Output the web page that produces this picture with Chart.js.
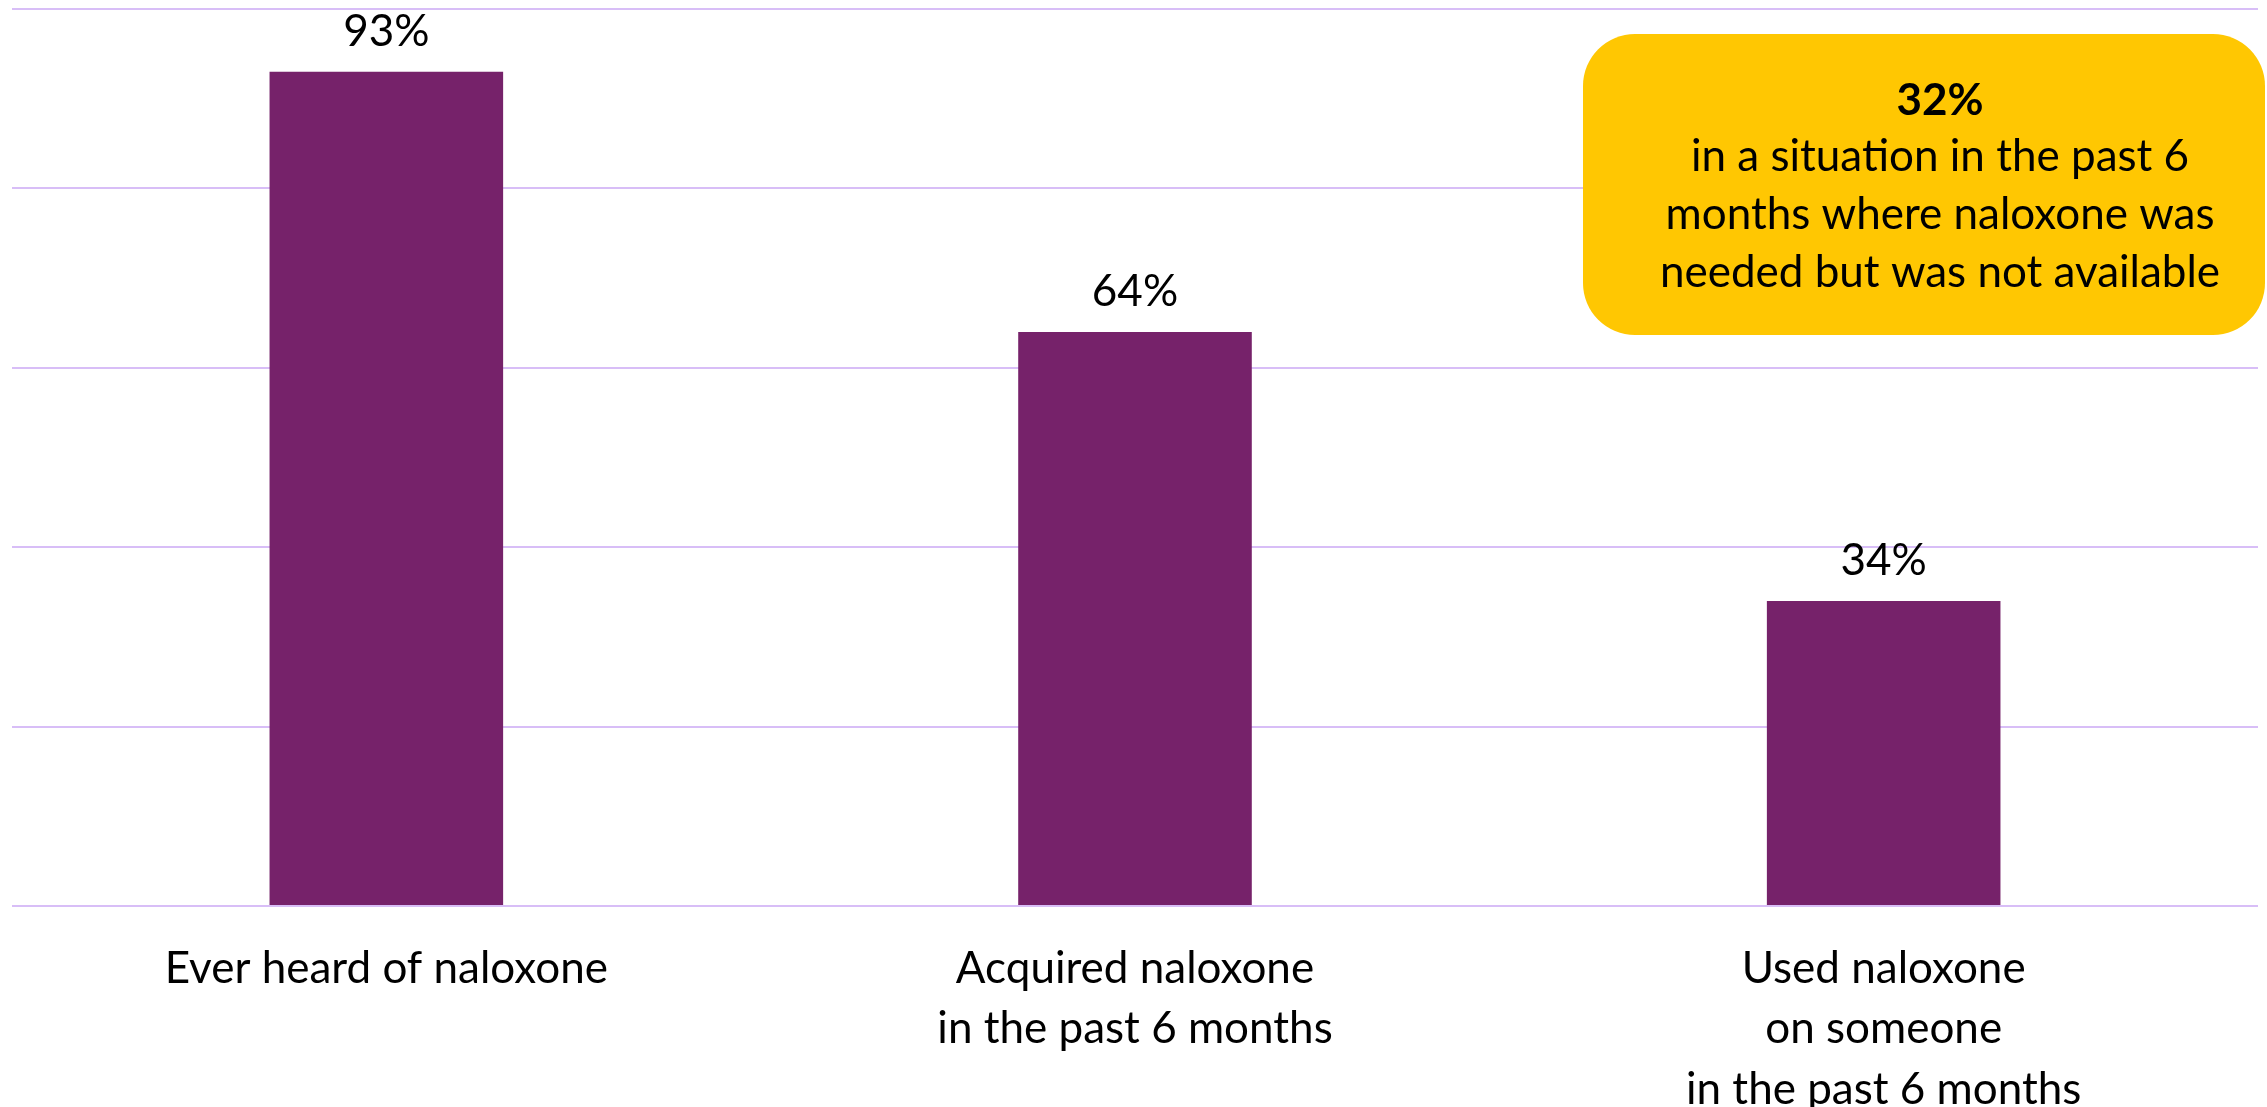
<!DOCTYPE html>
<html>
<head>
<meta charset="utf-8">
<script src="https://cdn.jsdelivr.net/npm/chart.js@4.4.0/dist/chart.umd.min.js"></script>
<style>
  html, body { margin: 0; padding: 0; background: #fff; }
  #wrap { position: relative; width: 2267px; height: 1107px; }
</style>
</head>
<body>
<div id="wrap"><canvas id="chart"></canvas></div>
<script>
const categories = [
    'Ever heard of naloxone',
    ['Acquired naloxone', 'in the past 6 months'],
    ['Used naloxone', 'on someone', 'in the past 6 months']
];
const percentValues = [93, 64, 34];
const yTicks = [0, 20, 40, 60, 80, 100];

const calloutValue = '32%';
const calloutLines = ['in a situation in the past 6', 'months where naloxone was', 'needed but was not available'];

const FONT = 'Lato, "Open Sans", sans-serif';

// numbers above each bar
const valueLabels = {
    id: 'valueLabels',
    afterDatasetsDraw(chart) {
        const ctx = chart.ctx;
        const meta = chart.getDatasetMeta(0);
        ctx.save();
        ctx.font = '44px ' + FONT;
        ctx.fillStyle = '#000';
        ctx.textAlign = 'center';
        ctx.textBaseline = 'middle';
        meta.data.forEach((bar, i) => {
            ctx.fillText(percentValues[i] + '%', bar.x, bar.y - 40);
        });
        ctx.restore();
    }
};

// yellow callout box top right
const callout = {
    id: 'callout',
    afterDraw(chart) {
        const ctx = chart.ctx;
        const x = 1583, y = 34, w = 682, h = 301, r = 52;
        ctx.save();
        ctx.fillStyle = '#FFC702';
        ctx.beginPath();
        ctx.roundRect(x, y, w, h, r);
        ctx.fill();
        ctx.fillStyle = '#000';
        ctx.textAlign = 'center';
        ctx.textBaseline = 'middle';
        const cx = 1940;
        ctx.font = 'bold 44px ' + FONT;
        ctx.fillText(calloutValue, cx, 101);
        ctx.font = '44px ' + FONT;
        calloutLines.forEach((line, i) => {
            ctx.fillText(line, cx, 157 + i * 58);
        });
        ctx.restore();
    }
};

new Chart(document.getElementById('chart'), {
    type: 'bar',
    data: {
        labels: categories,
        datasets: [{
            data: percentValues,
            backgroundColor: '#76226A',
            categoryPercentage: 1,
            barPercentage: 0.312
        }]
    },
    options: {
        responsive: true,
        maintainAspectRatio: false,
        animation: false,
        layout: { padding: { top: 9, left: 12, right: 9, bottom: 0 } },
        plugins: {
            legend: { display: false },
            tooltip: { enabled: false }
        },
        scales: {
            x: {
                grid: { display: false },
                border: { display: false },
                afterFit(axis) {
                    axis.height = 201;
                },
                ticks: {
                    color: '#000',
                    font: { family: FONT, size: 44, lineHeight: 1.38 },
                    padding: 24,
                    maxRotation: 0,
                    autoSkip: false
                }
            },
            y: {
                min: 0,
                max: 100,
                afterBuildTicks(axis) {
                    axis.ticks = yTicks.map(v => ({ value: v }));
                },
                grid: { color: '#D8BEF7', lineWidth: 2, drawTicks: false },
                border: { display: false },
                ticks: { display: false }
            }
        }
    },
    plugins: [valueLabels, callout]
});
</script>
</body>
</html>
